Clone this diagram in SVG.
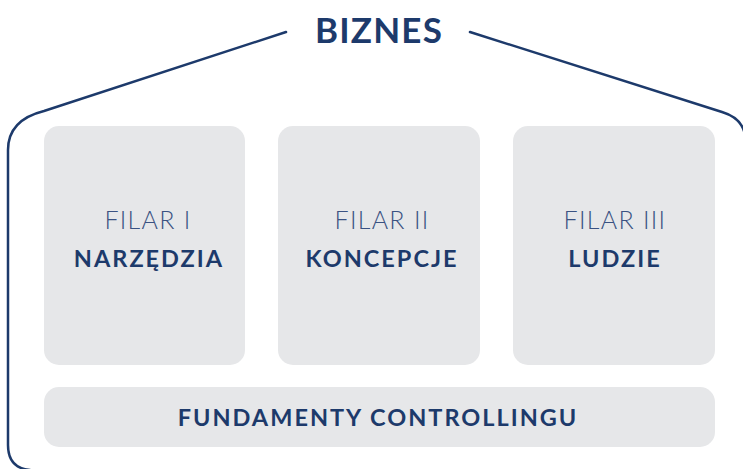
<svg xmlns="http://www.w3.org/2000/svg" width="743" height="469" viewBox="0 0 743 469">
<style>
.box{fill:#e6e7e9}
.outline{fill:none;stroke:#1d3a6b;stroke-width:2.5;stroke-linecap:round;stroke-linejoin:round}
.t{font-family:Lato,"Noto Sans","Liberation Sans",sans-serif;fill:#1d3a6b;text-anchor:middle}
.light{font-weight:300;font-size:25px;fill:#3a5282;letter-spacing:1.3px}
.bold{font-weight:700;font-size:23.5px;letter-spacing:2px}
</style>
<rect width="743" height="469" fill="#ffffff"/>
<g id="house">
<path class="outline" d="M286,32 L44,111 Q8,120 8,150 L8,445 Q8,468 30,470"/>
<path class="outline" d="M470,32 L722,112 Q742,118 745,135"/>
<text class="t" x="379" y="43" font-size="35" font-weight="700" letter-spacing="1.2">BIZNES</text>
</g>
<g id="filar1">
<rect class="box" x="44" y="126" width="201" height="239" rx="15"/>
<text class="t light" x="148" y="229">FILAR I</text>
<text class="t bold" x="149" y="267">NARZĘDZIA</text>
</g>
<g id="filar2">
<rect class="box" x="278" y="126" width="202" height="239" rx="15"/>
<text class="t light" x="382" y="229">FILAR II</text>
<text class="t bold" x="382" y="267">KONCEPCJE</text>
</g>
<g id="filar3">
<rect class="box" x="513" y="126" width="202" height="239" rx="15"/>
<text class="t light" x="615" y="229">FILAR III</text>
<text class="t bold" x="615" y="267">LUDZIE</text>
</g>
<g id="fundamenty">
<rect class="box" x="44" y="387" width="671" height="60" rx="15"/>
<text class="t bold" x="378" y="426" letter-spacing="3">FUNDAMENTY CONTROLLINGU</text>
</g>
<g id="connectors"></g>
</svg>
